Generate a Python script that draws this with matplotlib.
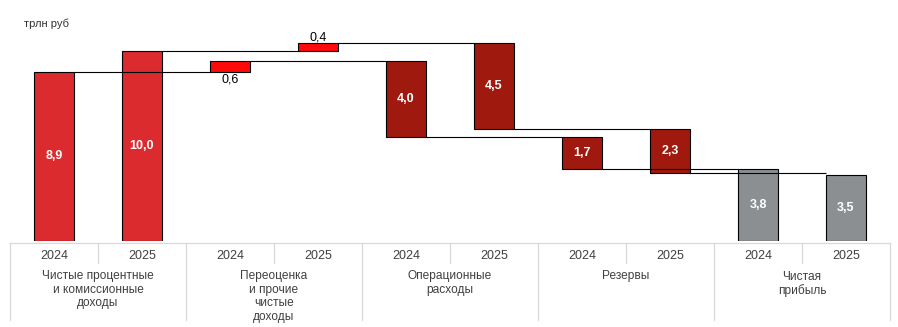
import matplotlib.pyplot as plt

plt.rcParams['font.family'] = ['Liberation Sans', 'DejaVu Sans']

# ---------------- DATA ----------------
groups = ["Чистые процентные\nи комиссионные\nдоходы",
          "Переоценка\nи прочие\nчистые\nдоходы",
          "Операционные\nрасходы",
          "Резервы",
          "Чистая\nприбыль"]
years = ["2024", "2025"]
income_core = [8.9, 10.0]
income_other = [0.6, 0.4]
opex = [4.0, 4.5]
reserves = [1.7, 2.3]
net_profit = [3.8, 3.5]

colors = ["#DC2B2F", "#FF0A0A", "#A0190E", "#A0190E", "#8C8F92"]

# ---------------- WATERFALL LEVELS ----------------
# bars ordered group by group, 2024 then 2025
bars = []  # (bottom, height, value)
for k in range(2):
    lvl0 = income_core[k]
    lvl1 = lvl0 + income_other[k]
    lvl2 = lvl1 - opex[k]
    lvl3 = lvl2 - reserves[k]
    bars.append([(0, lvl0, income_core[k]),
                 (lvl0, income_other[k], income_other[k]),
                 (lvl2, opex[k], opex[k]),
                 (lvl3, reserves[k], reserves[k]),
                 (0, net_profit[k], net_profit[k])])

W, H = 898, 327
fig = plt.figure(figsize=(W / 100, H / 100), dpi=100)
ax = fig.add_axes([10 / W, 86 / H, 880 / W, 241 / H])
ax.set_xlim(-0.5, 9.5)
ax.set_ylim(0, 241 / 19)
ax.axis('off')

bw = 0.465
xs, bots, hts, vals, cols = [], [], [], [], []
for g in range(5):
    for k in range(2):
        b, h, v = bars[k][g]
        xs.append(2 * g + k)
        bots.append(b)
        hts.append(h)
        vals.append(v)
        cols.append(colors[g])

ax.bar(xs, hts, bottom=bots, width=bw, color=cols, edgecolor='black',
       linewidth=0.8, zorder=2)

# connectors: from right edge of one bar to left edge of the same-year next bar
levels = {}
for i in range(10):
    g = i // 2
    levels[i] = bots[i] + hts[i] if g < 2 else bots[i]
for i in range(8):
    ax.plot([xs[i] + bw / 2, xs[i + 2] - bw / 2], [levels[i], levels[i]],
            color='black', lw=0.8, zorder=3, solid_capstyle='butt')

# value labels
for i in range(10):
    g = i // 2
    txt = f"{vals[i]:.1f}".replace('.', ',')
    if g == 1:
        if i % 2 == 0:
            ax.annotate(txt, (xs[i], bots[i]), xytext=(0, -8),
                        textcoords='offset pixels', ha='center', va='center',
                        fontsize=9, color='black')
        else:
            ax.annotate(txt, (xs[i], bots[i] + hts[i]), xytext=(0, 6),
                        textcoords='offset pixels', ha='center', va='center',
                        fontsize=9, color='black')
    else:
        ax.text(xs[i], bots[i] + hts[i] / 2, txt, ha='center', va='center',
                fontsize=9, color='white', fontweight='bold', zorder=4)

# ---------------- CATEGORY TABLE ----------------
tab = fig.add_axes([0, 0, 1, 1], zorder=-1)
tab.set_xlim(0, W)
tab.set_ylim(H, 0)
tab.axis('off')

grid = '#D9D9D9'
tab.plot([10, 890], [243, 243], color=grid, lw=0.9)
for g in range(6):
    x = 10 + 176 * g
    tab.plot([x, x], [243, 320], color=grid, lw=0.9)
for g in range(5):
    x = 98 + 176 * g
    tab.plot([x, x], [243, 263], color=grid, lw=0.9)
    for k in range(2):
        tab.text(10 + 176 * g + 44 + 88 * k, 256, years[k], ha='center',
                 va='center', fontsize=9, color='#404040')
    tab.text(98 + 176 * g, 270.5, groups[g], ha='center', va='top',
             fontsize=8.6, color='#404040', linespacing=1.16)

tab.text(24, 24, "трлн руб", ha='left', va='center', fontsize=8,
         color='#333333')

fig.savefig("out.png", dpi=100)
